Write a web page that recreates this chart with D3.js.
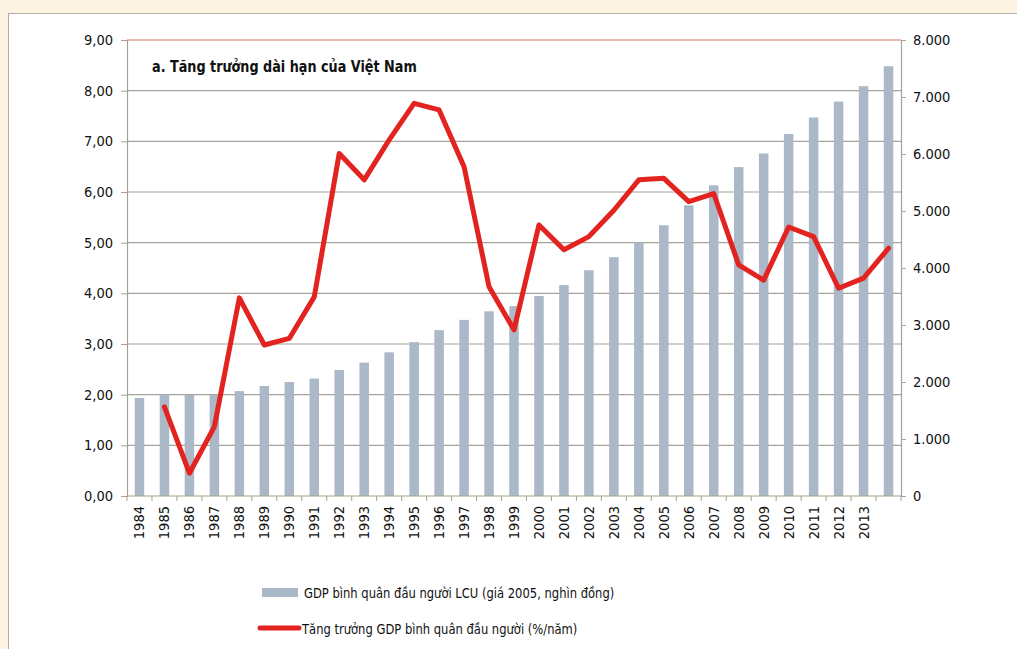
<!DOCTYPE html>
<html>
<head>
<meta charset="utf-8">
<script src="https://cdnjs.cloudflare.com/ajax/libs/d3/7.8.5/d3.min.js"></script>
<style>
  body { margin: 0; background: #fdf3e2; }
  svg { display: block; }
  text { font-family: "Liberation Sans Narrow", "DejaVu Sans Condensed", "Roboto Condensed", sans-serif; fill: #111; }
</style>
</head>
<body>
<script>
// years on the x axis (last bar has no label)
const years = [1984, 1985, 1986, 1987, 1988, 1989, 1990, 1991, 1992, 1993, 1994, 1995, 1996, 1997, 1998, 1999,
  2000, 2001, 2002, 2003, 2004, 2005, 2006, 2007, 2008, 2009, 2010, 2011, 2012, 2013, 2014];
const yearLabels = years.slice(0, 30).map(String);

// GDP per capita LCU (2005 prices, thousand dong) - right axis
const gdpPerCapita = [1720, 1780, 1775, 1775, 1840, 1930, 2000, 2060, 2210, 2340, 2520, 2700, 2910, 3090, 3240, 3330,
  3510, 3700, 3960, 4190, 4450, 4750, 5100, 5450, 5770, 6010, 6350, 6640, 6920, 7190, 7540];

// GDP per capita growth (%/year) - left axis, starts 1985
const growth = [null, 1.76, 0.45, 1.37, 3.91, 2.98, 3.11, 3.93, 6.76, 6.24, 7.03, 7.75, 7.62, 6.50, 4.13, 3.28,
  5.35, 4.86, 5.12, 5.64, 6.24, 6.27, 5.81, 5.97, 4.56, 4.26, 5.31, 5.12, 4.10, 4.30, 4.89];

const leftTicks = [0, 1, 2, 3, 4, 5, 6, 7, 8, 9];
const rightTicks = [0, 1000, 2000, 3000, 4000, 5000, 6000, 7000, 8000];

const W = 1017, H = 649;
const margin = { top: 40, right: 116, bottom: 153, left: 127 };
const iw = W - margin.left - margin.right;
const ih = H - margin.top - margin.bottom;

const svg = d3.select("body").append("svg").attr("width", W).attr("height", H);

// white panel
svg.append("rect")
  .attr("x", 8.5).attr("y", 13.5).attr("width", W).attr("height", H)
  .attr("fill", "#fff").attr("stroke", "#b5ada0");

const g = svg.append("g").attr("transform", `translate(${margin.left},${margin.top})`);

const x = d3.scaleBand().domain(years).range([0, iw]);
const yL = d3.scaleLinear().domain([0, 9]).range([ih, 0]);
const yR = d3.scaleLinear().domain([0, 8000]).range([ih, 0]);

// gridlines
g.selectAll(".grid").data(leftTicks.filter(d => d > 0 && d < 9)).join("line")
  .attr("x1", 0).attr("x2", iw)
  .attr("y1", d => yL(d)).attr("y2", d => yL(d))
  .attr("stroke", "#a3a39a").attr("stroke-width", 1.2);
g.append("line")
  .attr("x1", 0).attr("x2", iw).attr("y1", yL(9)).attr("y2", yL(9))
  .attr("stroke", "#e2a48e").attr("stroke-width", 1.5);

// bars
const barW = 9.5;
g.selectAll(".bar").data(years).join("rect")
  .attr("x", (d) => x(d) + x.bandwidth() / 2 - barW / 2)
  .attr("width", barW)
  .attr("y", (d, i) => yR(gdpPerCapita[i]))
  .attr("height", (d, i) => ih - yR(gdpPerCapita[i]))
  .attr("fill", "#aab8c8");

// growth line
const pts = years.map((d, i) => ({ year: d, v: growth[i] })).filter(d => d.v != null);
g.append("path").datum(pts)
  .attr("fill", "none").attr("stroke", "#e2231f").attr("stroke-width", 5)
  .attr("stroke-linejoin", "round").attr("stroke-linecap", "round")
  .attr("d", d3.line().x(d => x(d.year) + x.bandwidth() / 2).y(d => yL(d.v)));

// left axis
const axL = g.append("g").call(d3.axisLeft(yL).tickValues(leftTicks).tickSize(6).tickPadding(8)
  .tickFormat(d => d3.format(".2f")(d).replace(".", ",")));
axL.selectAll("text").attr("font-size", 14.5);

// right axis
const axR = g.append("g").attr("transform", `translate(${iw},0)`)
  .call(d3.axisRight(yR).tickValues(rightTicks).tickSize(5).tickPadding(7)
    .tickFormat(d => d3.format(",")(d).replace(/,/g, ".")));
axR.selectAll("text").attr("font-size", 14.5);

// bottom axis, ticks on band boundaries
const axB = g.append("g").attr("transform", `translate(0,${ih})`);
axB.append("line").attr("x1", 0).attr("x2", iw).attr("stroke", "#a3a38a").attr("stroke-width", 1.2);
axB.selectAll(".tk").data(d3.range(years.length + 1)).join("line")
  .attr("x1", i => i * x.step()).attr("x2", i => i * x.step())
  .attr("y1", 0).attr("y2", 5).attr("stroke", "#a3a38a");
axB.selectAll(".lbl").data(yearLabels).join("text")
  .attr("transform", d => `translate(${x(+d) + x.bandwidth() / 2 + 5},10) rotate(-90)`)
  .attr("text-anchor", "end").attr("font-size", 14.5).text(d => d);

[axL, axR].forEach(a => {
  a.select(".domain").attr("stroke", "#a3a39a").attr("stroke-width", 1.2);
  a.selectAll(".tick line").attr("stroke", "#a3a39a");
  a.selectAll("text").attr("fill", "#111");
});

// title (squeezed a bit to look condensed)
svg.append("text").attr("transform", "translate(152,72) scale(0.89,1)")
  .attr("font-size", 16).attr("font-weight", "bold").text("a. Tăng trưởng dài hạn của Việt Nam");

// legend
svg.append("rect").attr("x", 262).attr("y", 588).attr("width", 36).attr("height", 9).attr("fill", "#aab8c8");
svg.append("text").attr("transform", "translate(304,598) scale(0.886,1)").attr("font-size", 14.5)
  .text("GDP bình quân đầu người LCU (giá 2005, nghìn đồng)");
svg.append("line").attr("x1", 260).attr("x2", 299).attr("y1", 628).attr("y2", 628)
  .attr("stroke", "#e2231f").attr("stroke-width", 5).attr("stroke-linecap", "round");
svg.append("text").attr("transform", "translate(302,634) scale(0.886,1)").attr("font-size", 14.5)
  .text("Tăng trưởng GDP bình quân đầu người (%/năm)");
</script>
</body>
</html>
